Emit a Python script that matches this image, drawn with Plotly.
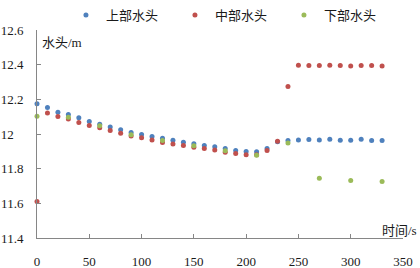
import plotly.graph_objects as go

# ---- data ----
time_all = [0, 10, 20, 30, 40, 50, 60, 70, 80, 90, 100, 110, 120, 130, 140, 150, 160,
            170, 180, 190, 200, 210, 220, 230, 240, 250, 260, 270, 280, 290, 300, 310, 320, 330]
upper_head = [12.175, 12.153, 12.126, 12.112, 12.094, 12.072, 12.056, 12.040, 12.025, 12.009,
              11.997, 11.986, 11.975, 11.964, 11.953, 11.944, 11.934, 11.926, 11.916, 11.905,
              11.899, 11.897, 11.916, 11.955, 11.962, 11.966, 11.968, 11.966, 11.970, 11.964,
              11.964, 11.970, 11.962, 11.962]
middle_head = [11.611, 12.121, 12.101, 12.086, 12.067, 12.049, 12.036, 12.020, 12.005, 11.989,
               11.978, 11.966, 11.951, 11.943, 11.934, 11.923, 11.916, 11.908, 11.894, 11.887,
               11.881, 11.880, 11.905, 11.958, 12.274, 12.397, 12.395, 12.395, 12.397, 12.395,
               12.393, 12.395, 12.395, 12.392]
time_lower = [0, 30, 60, 90, 120, 150, 180, 210, 240, 270, 300, 330]
lower_head = [12.103, 12.096, 12.047, 11.996, 11.962, 11.932, 11.904, 11.878, 11.948,
              11.744, 11.732, 11.726]

series_names = ["上部水头", "中部水头", "下部水头"]
colors = ["#4F81BD", "#C0504D", "#9BBB59"]

y_tickvals = [11.4, 11.6, 11.8, 12.0, 12.2, 12.4, 12.6]
y_ticktext = ["11.4", "11.6", "11.8", "12\u00a0\u00a0\u00a0", "12.2", "12.4", "12.6"]
x_tickvals = [0, 50, 100, 150, 200, 250, 300, 350]

FONT = '"Liberation Serif", "Times New Roman", "Noto Sans CJK SC", serif'

fig = go.Figure()
for xs, ys, name, c in [(time_all, upper_head, series_names[0], colors[0]),
                        (time_all, middle_head, series_names[1], colors[1]),
                        (time_lower, lower_head, series_names[2], colors[2])]:
    fig.add_trace(go.Scatter(x=xs, y=ys, mode="markers", name=name,
                             marker=dict(size=5, color=c), cliponaxis=False))

axis_common = dict(showline=True, linecolor="#868686", linewidth=1, ticks="inside",
                   ticklen=4, tickcolor="#868686", showgrid=False, zeroline=False,
                   automargin=False,
                   tickfont=dict(family=FONT, size=13, color="#1a1a1a"))

fig.update_xaxes(range=[0, 350], tickvals=x_tickvals, ticklabelstandoff=11, **axis_common)
fig.update_yaxes(range=[11.4, 12.6], tickvals=y_tickvals, ticktext=y_ticktext,
                 ticklabelstandoff=10, **axis_common)

fig.update_layout(
    width=420, height=268,
    margin=dict(l=37, r=17, t=16, b=30),
    paper_bgcolor="white", plot_bgcolor="white",
    showlegend=True,
    legend=dict(orientation="h", xref="container", yref="container",
                x=0.157, y=1.0, xanchor="left", yanchor="top",
                font=dict(family=FONT, size=13, color="#1a1a1a"),
                itemwidth=30, entrywidth=64, bgcolor="rgba(0,0,0,0)",
                tracegroupgap=0),
    annotations=[
        dict(text="水头/m", xref="paper", yref="paper", x=0.008, y=0.94,
             xanchor="left", yanchor="middle", showarrow=False,
             font=dict(family=FONT, size=13, color="#1a1a1a")),
        dict(text="时间/s", xref="paper", yref="paper", x=1.045, y=0.035,
             xanchor="right", yanchor="middle", showarrow=False,
             font=dict(family=FONT, size=13, color="#1a1a1a")),
    ],
)

fig.write_html("out.html", config={"displayModeBar": False},
               post_script="document.body.style.margin='0';document.body.style.padding='0';")
